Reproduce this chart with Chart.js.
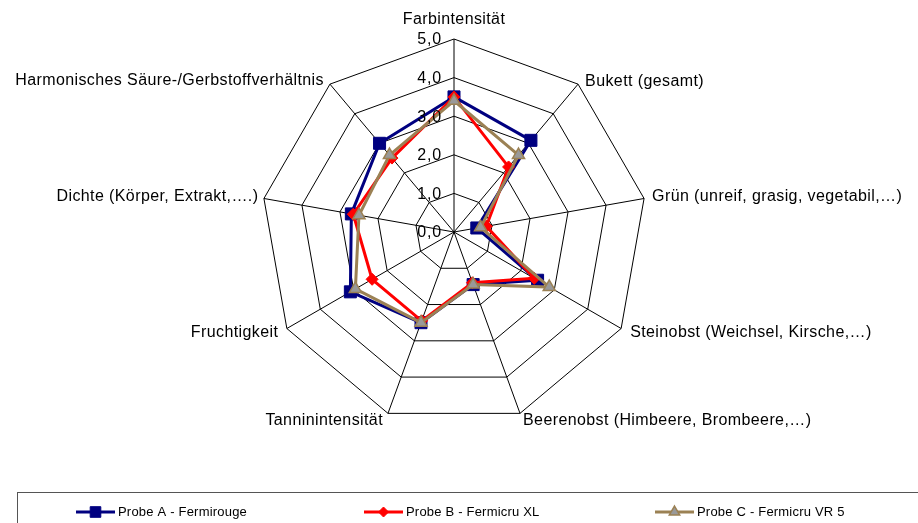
<!DOCTYPE html>
<html>
<head>
<meta charset="utf-8">
<script src="https://cdn.jsdelivr.net/npm/chart.js@4"></script>
<style>
  body { margin: 0; background: #fff; }
  canvas { display: block; }
</style>
</head>
<body>
<canvas id="myChart" width="918" height="523"></canvas>
<script>
const categories = [
  "Farbintensität",
  "Bukett (gesamt)",
  "Grün (unreif, grasig, vegetabil,…)",
  "Steinobst (Weichsel, Kirsche,…)",
  "Beerenobst (Himbeere, Brombeere,…)",
  "Tanninintensität",
  "Fruchtigkeit",
  "Dichte (Körper, Extrakt,….)",
  "Harmonisches Säure-/Gerbstoffverhältnis",
];
const seriesNames = [
  "Probe A - Fermirouge",
  "Probe B - Fermicru XL",
  "Probe C - Fermicru VR 5",
];
const probeA = [3.5, 3.1, 0.6, 2.5, 1.45, 2.5, 3.1, 2.7, 3.0];
const probeB = [3.5, 2.2, 0.85, 2.4, 1.4, 2.45, 2.45, 2.65, 2.5];
const probeC = [3.4, 2.6, 0.7, 2.85, 1.45, 2.5, 2.95, 2.5, 2.6];
const tickLabels = ["0,0", "1,0", "2,0", "3,0", "4,0", "5,0"];

const FONT = '"Liberation Sans", Arial, sans-serif';

// where each axis label sits relative to the outer vertex
const labelPlace = [
  { dx: 0, dy: -19, align: "center" },
  { dx: 7, dy: -2.5, align: "left" },
  { dx: 8, dy: -2, align: "left" },
  { dx: 9, dy: 4.5, align: "left" },
  { dx: 3, dy: 7.5, align: "left" },
  { dx: -5, dy: 7.5, align: "right" },
  { dx: -8.5, dy: 4, align: "right" },
  { dx: -5.5, dy: -2, align: "right" },
  { dx: -6, dy: -3.5, align: "right" },
];

const seriesStyle = [
  { color: "#000080", fill: "#000080", point: "rect", radius: 8.5, bw: 1, order: 3 },
  { color: "#ff0000", fill: "#ff0000", point: "rectRot", radius: 6, bw: 1, order: 2 },
  { color: "#9b8154", fill: "#999999", point: "triangle", radius: 7, bw: 1.5, order: 1 },
];
const seriesData = [probeA, probeB, probeC];

const labelsPlugin = {
  id: "labelsPlugin",
  afterDraw(chart) {
    const ctx = chart.ctx;
    const scale = chart.scales.r;
    ctx.save();
    ctx.fillStyle = "#000";
    ctx.textBaseline = "middle";

    // axis labels
    ctx.font = "16px " + FONT;
    ctx.letterSpacing = "0.4px";
    for (let i = 0; i < categories.length; i++) {
      const p = scale.getPointPosition(i, scale.drawingArea);
      ctx.textAlign = labelPlace[i].align;
      ctx.fillText(categories[i], p.x + labelPlace[i].dx, p.y + labelPlace[i].dy);
    }

    // tick labels, left of the vertical axis
    ctx.font = "16px " + FONT;
    ctx.letterSpacing = "0.8px";
    ctx.textAlign = "right";
    for (let i = 0; i < tickLabels.length; i++) {
      const y = scale.getPointPositionForValue(0, i).y;
      ctx.fillText(tickLabels[i], scale.xCenter - 12, y + 1);
    }

    // legend box
    ctx.letterSpacing = "0px";
    ctx.strokeStyle = "#555";
    ctx.lineWidth = 1;
    ctx.strokeRect(17.5, 492.5, 910, 40);
    const legX = [76, 364, 655];
    const legY = 512;
    ctx.font = "13px " + FONT;
    ctx.letterSpacing = "0.2px";
    ctx.textAlign = "left";
    for (let i = 0; i < seriesNames.length; i++) {
      const s = seriesStyle[i];
      ctx.strokeStyle = s.color;
      ctx.lineWidth = 3;
      ctx.beginPath();
      ctx.moveTo(legX[i], legY);
      ctx.lineTo(legX[i] + 39, legY);
      ctx.stroke();
      ctx.fillStyle = s.fill;
      ctx.lineWidth = s.bw;
      Chart.helpers.drawPoint(ctx, { pointStyle: s.point, radius: s.radius - 1, rotation: 0, borderWidth: s.bw }, legX[i] + 19.5, legY);
      ctx.fillStyle = "#000";
      ctx.fillText(seriesNames[i], legX[i] + 42, legY);
    }
    ctx.restore();
  },
};

const ctx = document.getElementById("myChart").getContext("2d");
const myChart = new Chart(ctx, {
  type: "radar",
  plugins: [labelsPlugin],
  data: {
    labels: categories,
    datasets: seriesData.map((d, i) => ({
      label: seriesNames[i],
      data: d,
      order: seriesStyle[i].order,
      borderColor: seriesStyle[i].color,
      borderWidth: 3,
      backgroundColor: "transparent",
      fill: false,
      tension: 0,
      pointStyle: seriesStyle[i].point,
      pointRadius: seriesStyle[i].radius,
      pointHoverRadius: seriesStyle[i].radius,
      pointBackgroundColor: seriesStyle[i].fill,
      pointBorderColor: seriesStyle[i].color,
      pointBorderWidth: seriesStyle[i].bw,
    })),
  },
  options: {
    responsive: false,
    devicePixelRatio: 1,
    animation: false,
    layout: {
      padding: { left: 261, right: 271, top: 39, bottom: 98 },
    },
    plugins: {
      legend: { display: false },
      title: { display: false },
      tooltip: { enabled: false },
    },
    scales: {
      r: {
        min: 0,
        max: 5,
        ticks: { display: false, stepSize: 1 },
        pointLabels: { display: false },
        grid: { color: "#000", lineWidth: 1 },
        angleLines: { color: "#000", lineWidth: 1 },
      },
    },
  },
});
</script>
</body>
</html>
